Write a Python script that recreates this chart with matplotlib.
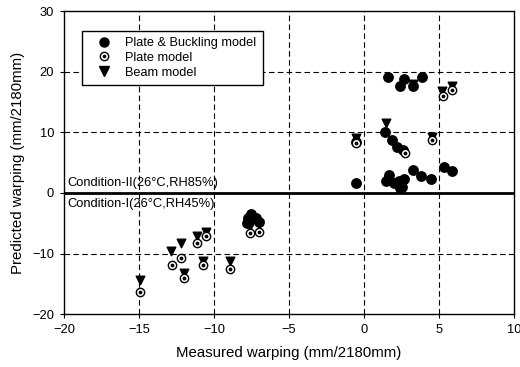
import matplotlib
matplotlib.use("Agg")
import matplotlib.pyplot as plt
from matplotlib.lines import Line2D
from matplotlib.legend_handler import HandlerTuple

plt.rcParams['font.family'] = ['Liberation Sans', 'DejaVu Sans']

# Plate & Buckling model: measured vs predicted warping (mm/2180mm)
pb_measured = [-7.8, -7.5, -7.2, -7.0, -7.7,
               -0.55, 1.5, 1.67, 2.0, 2.33, 2.67, 2.55, 2.4, 3.27, 3.8, 4.5, 5.33, 5.85,
               -0.55, 1.4, 1.85, 2.2, 2.6,
               1.6, 2.7, 2.4, 3.3, 3.85]
pb_predicted = [-5.0, -3.5, -4.2, -4.8, -4.2,
                1.7, 1.9, 3.0, 1.6, 2.0, 2.3, 1.0, 0.8, 3.8, 2.8, 2.3, 4.2, 3.6,
                8.4, 10.1, 8.75, 7.6, 7.0,
                19.1, 18.8, 17.7, 17.7, 19.1]

# Plate model
pl_measured = [-14.9, -12.8, -12.2, -12.0, -11.1, -10.5, -10.7, -8.9, -7.6, -7.0,
               -0.55, 2.75, 4.55, 5.3, 5.9]
pl_predicted = [-16.3, -11.9, -10.8, -14.1, -8.2, -7.1, -11.9, -12.6, -6.65, -6.4,
                8.3, 6.6, 8.8, 16.0, 17.0]

# Beam model
bm_measured = [-14.9, -12.85, -12.2, -12.0, -11.1, -10.5, -10.7, -8.9, -7.6, -7.0,
               -0.55, 1.5, 3.3, 4.55, 5.2, 5.9]
bm_predicted = [-14.4, -9.6, -8.3, -13.2, -7.1, -6.5, -11.3, -11.3, -5.5, -5.2,
                9.0, 11.6, 18.0, 9.3, 16.8, 17.6]

x_ticks = [-20, -15, -10, -5, 0, 5, 10]
y_ticks = [-20, -10, 0, 10, 20, 30]

fig = plt.figure(figsize=(5.2, 3.67), dpi=100)
ax = fig.add_axes([0.123, 0.144, 0.865, 0.826])
ax.set_xlim(-20, 10)
ax.set_ylim(-20, 30)
ax.set_xticks(x_ticks)
ax.set_yticks(y_ticks)
ax.tick_params(direction='out', length=3, width=0.8, labelsize=9.3, pad=4)

dash = dict(color='black', linewidth=0.8, linestyle=(0, (5, 3)), zorder=1)
for xv in [-15, -10, -5, 0, 5]:
    ax.axvline(xv, **dash)
for yv in [-10, 10, 20]:
    ax.axhline(yv, **dash)
ax.axhline(0, color='black', linewidth=2.0, zorder=2)

for s in ax.spines.values():
    s.set_linewidth(1.0)

ax.scatter(pb_measured, pb_predicted, s=46, marker='o', color='black', zorder=3)
ax.scatter(bm_measured, bm_predicted, s=38, marker='v', color='black', zorder=4)
ax.scatter(pl_measured, pl_predicted, s=36, marker='o', facecolor='white',
           edgecolor='black', linewidths=1.0, zorder=5)
ax.scatter(pl_measured, pl_predicted, s=3, marker='o', color='black', zorder=6)

ax.text(-19.8, 0.6, 'Condition-II(26°C,RH85%)', fontsize=9.3, va='bottom', ha='left')
ax.text(-19.8, -0.8, 'Condition-I(26°C,RH45%)', fontsize=9.3, va='top', ha='left')

ax.set_xlabel('Measured warping (mm/2180mm)', fontsize=10.8, labelpad=7)
ax.set_ylabel('Predicted warping (mm/2180mm)', fontsize=10.8, labelpad=5)

h_pb = Line2D([], [], marker='o', color='black', linestyle='none', markersize=6.5)
h_pl = (Line2D([], [], marker='o', markerfacecolor='white', markeredgecolor='black',
               linestyle='none', markersize=6, markeredgewidth=1.0),
        Line2D([], [], marker='o', color='black', linestyle='none', markersize=1.6))
h_bm = Line2D([], [], marker='v', color='black', linestyle='none', markersize=6.5)
leg = ax.legend([h_pb, h_pl, h_bm],
                ['Plate & Buckling model', 'Plate model', 'Beam model'],
                handler_map={tuple: HandlerTuple(ndivide=1)},
                loc='upper left', bbox_to_anchor=(0.04, 0.934),
                fontsize=9.2, frameon=True, fancybox=False, edgecolor='black',
                framealpha=1, borderpad=0.5, labelspacing=0.2,
                handlelength=2.4, handletextpad=0.5, borderaxespad=0)
leg.get_frame().set_linewidth(1.0)
leg.set_zorder(10)

fig.savefig('out.png', dpi=100)
